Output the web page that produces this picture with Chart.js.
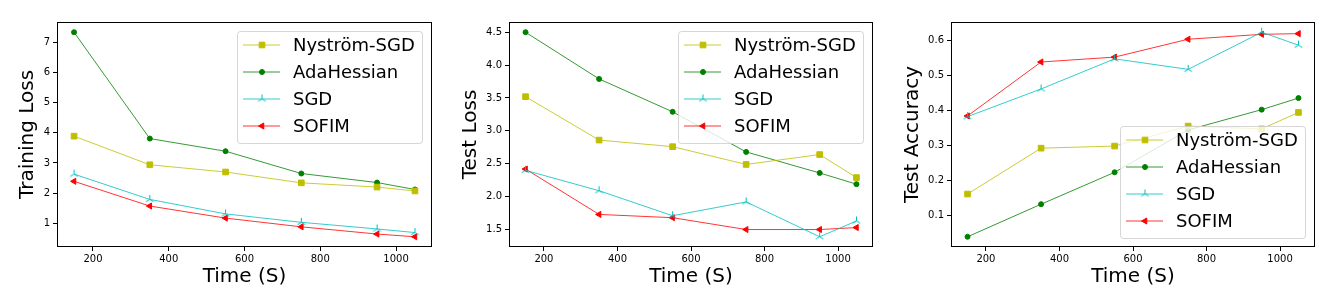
<!DOCTYPE html>
<html>
<head>
<meta charset="utf-8">
<script src="https://cdn.jsdelivr.net/npm/chart.js@4.4.0/dist/chart.umd.min.js"></script>
<style>
  html, body { margin: 0; padding: 0; background: #fff; }
  #wrap { position: relative; width: 1336px; height: 308px; overflow: hidden; }
  canvas { position: absolute; top: 0; }
</style>
</head>
<body>
<div id="wrap">
  <canvas id="trainLoss" width="445" height="308" style="left:0px"></canvas>
  <canvas id="testLoss" width="445" height="308" style="left:445px"></canvas>
  <canvas id="testAcc" width="446" height="308" style="left:890px"></canvas>
</div>
<script>
// Data
const times = [150, 350, 550, 750, 950, 1050];
const seriesNames = ['Nyström-SGD', 'AdaHessian', 'SGD', 'SOFIM'];
const xTicks = [200, 400, 600, 800, 1000];

const nystromTrain = [3.89, 2.94, 2.70, 2.34, 2.20, 2.07];
const adaTrain     = [7.34, 3.81, 3.39, 2.65, 2.35, 2.12];
const sgdTrain     = [2.63, 1.79, 1.31, 1.03, 0.81, 0.69];
const sofimTrain   = [2.39, 1.57, 1.17, 0.88, 0.64, 0.55];
const trainTicks   = [1, 2, 3, 4, 5, 6, 7];

const nystromTest = [3.52, 2.86, 2.76, 2.49, 2.64, 2.29];
const adaTest     = [4.50, 3.79, 3.29, 2.68, 2.36, 2.19];
const sgdTest     = [2.40, 2.09, 1.71, 1.92, 1.39, 1.63];
const sofimTest   = [2.42, 1.73, 1.68, 1.50, 1.50, 1.53];
const testLossTicks = [1.5, 2.0, 2.5, 3.0, 3.5, 4.0, 4.5];

const nystromAcc = [0.162, 0.293, 0.299, 0.356, 0.348, 0.395];
const adaAcc     = [0.040, 0.133, 0.224, 0.345, 0.403, 0.436];
const sgdAcc     = [0.383, 0.462, 0.548, 0.518, 0.624, 0.587];
const sofimAcc   = [0.385, 0.539, 0.553, 0.604, 0.618, 0.620];
const accTicks   = [0.1, 0.2, 0.3, 0.4, 0.5, 0.6];

const FONT = '"DejaVu Sans", "Liberation Sans", sans-serif';
const colors = ['#bfbf00', '#008000', '#00bfbf', '#ff0000'];

// matplotlib "tri_up" marker for SGD
function triUp(color) {
    const c = document.createElement('canvas');
    c.width = 11; c.height = 11;
    const g = c.getContext('2d');
    g.strokeStyle = color;
    g.lineWidth = 1;
    const cx = 5.5, cy = 5.5, r = 4.5;
    g.beginPath();
    [-90, 30, 150].forEach(a => {
        const t = a * Math.PI / 180;
        g.moveTo(cx, cy);
        g.lineTo(cx + r * Math.cos(t), cy + r * Math.sin(t));
    });
    g.stroke();
    return c;
}

const markers = [
    { pointStyle: 'rect', pointRadius: 4, pointRotation: 0 },
    { pointStyle: 'circle', pointRadius: 2.5, pointRotation: 0 },
    { pointStyle: triUp(colors[2]), pointRadius: 4, pointRotation: 0 },
    { pointStyle: 'triangle', pointRadius: 3.5, pointRotation: -90 }
];

function pad(arr) {
    const lo = Math.min(...arr), hi = Math.max(...arr);
    const m = (hi - lo) * 0.05;
    return [lo - m, hi + m];
}

// frame around the plot and a matplotlib style legend box
const frameAndLegend = {
    id: 'frameAndLegend',
    afterDatasetsDraw(chart) {
        const ctx = chart.ctx, a = chart.chartArea;
        ctx.save();
        ctx.strokeStyle = '#000';
        ctx.lineWidth = 1;
        ctx.strokeRect(a.left + 0.5, a.top + 0.5, a.right - a.left - 1, a.bottom - a.top - 1);
        ctx.restore();
    },
    afterDraw(chart, args, opts) {
        const ctx = chart.ctx, a = chart.chartArea;
        const w = 185, h = 112;
        const left = a.right - 10 - w;
        const top = opts.corner === 'br' ? a.bottom - 9 - h : a.top + 9;
        ctx.save();
        ctx.beginPath();
        if (ctx.roundRect) ctx.roundRect(left + 0.5, top + 0.5, w, h, 3);
        else ctx.rect(left + 0.5, top + 0.5, w, h);
        ctx.fillStyle = 'rgba(255,255,255,0.8)';
        ctx.fill();
        ctx.strokeStyle = 'rgba(204,204,204,0.8)';
        ctx.lineWidth = 1;
        ctx.stroke();

        chart.data.datasets.forEach((ds, i) => {
            const y = top + 14 + i * 27;
            ctx.strokeStyle = ds.borderColor;
            ctx.lineWidth = 0.8;
            ctx.beginPath();
            ctx.moveTo(left + 6, y);
            ctx.lineTo(left + 43, y);
            ctx.stroke();
            ctx.fillStyle = ds.backgroundColor;
            ctx.strokeStyle = ds.borderColor;
            ctx.lineWidth = 1;
            Chart.helpers.drawPoint(ctx, {
                pointStyle: ds.pointStyle,
                radius: ds.pointRadius,
                rotation: ds.pointRotation,
                borderWidth: 1
            }, left + 25, y);
            ctx.fillStyle = '#000';
            ctx.font = '18px ' + FONT;
            ctx.textBaseline = 'middle';
            ctx.textAlign = 'left';
            ctx.fillText(ds.label, left + 56, y + 1);
        });
        ctx.restore();
    }
};

function makePanel(id, yTitle, series, yTicks, decimals, plotLeft, plotRight, titlePad, corner) {
    const canvas = document.getElementById(id);
    const W = canvas.width;
    const [xMin, xMax] = pad(times);
    const [yMin, yMax] = pad([].concat(...series));

    const datasets = series.map((vals, i) => ({
        label: seriesNames[i],
        data: times.map((t, k) => ({ x: t, y: vals[k] })),
        borderColor: colors[i],
        backgroundColor: colors[i],
        pointBackgroundColor: colors[i],
        pointBorderColor: colors[i],
        borderWidth: 0.8,
        pointBorderWidth: 1,
        tension: 0,
        ...markers[i]
    }));

    return new Chart(canvas, {
        type: 'line',
        data: { datasets },
        plugins: [frameAndLegend],
        options: {
            responsive: false,
            animation: false,
            layout: { padding: { left: 0, top: 22, right: W - plotRight, bottom: 0 } },
            plugins: {
                legend: { display: false },
                tooltip: { enabled: false },
                frameAndLegend: { corner: corner }
            },
            scales: {
                x: {
                    type: 'linear',
                    min: xMin,
                    max: xMax,
                    afterFit: s => { s.height = 61; },
                    afterBuildTicks: s => { s.ticks = xTicks.map(v => ({ value: v })); },
                    grid: { display: true, drawOnChartArea: false, drawTicks: true, tickLength: 4, color: '#000' },
                    border: { display: false },
                    ticks: {
                        font: { family: FONT, size: 10 },
                        color: '#000',
                        padding: 2,
                        maxRotation: 0,
                        autoSkip: false,
                        callback: v => String(v)
                    },
                    title: {
                        display: true,
                        text: 'Time (S)',
                        color: '#000',
                        font: { family: FONT, size: 20 },
                        padding: { top: 0, bottom: 19 }
                    }
                },
                y: {
                    type: 'linear',
                    min: yMin,
                    max: yMax,
                    afterFit: s => { s.width = plotLeft; },
                    afterBuildTicks: s => { s.ticks = yTicks.map(v => ({ value: v })); },
                    grid: { display: true, drawOnChartArea: false, drawTicks: true, tickLength: 4, color: '#000' },
                    border: { display: false },
                    ticks: {
                        font: { family: FONT, size: 10 },
                        color: '#000',
                        padding: 3,
                        autoSkip: false,
                        callback: v => v.toFixed(decimals)
                    },
                    title: {
                        display: true,
                        text: yTitle,
                        color: '#000',
                        font: { family: FONT, size: 20 },
                        padding: { top: titlePad, bottom: 0 }
                    }
                }
            }
        }
    });
}

makePanel('trainLoss', 'Training Loss', [nystromTrain, adaTrain, sgdTrain, sofimTrain],
    trainTicks, 0, 57, 432, 16, 'tr');
makePanel('testLoss', 'Test Loss', [nystromTest, adaTest, sgdTest, sofimTest],
    testLossTicks, 1, 64, 428, 14, 'tr');
makePanel('testAcc', 'Test Accuracy', [nystromAcc, adaAcc, sgdAcc, sofimAcc],
    accTicks, 1, 61, 425, 11, 'br');
</script>
</body>
</html>
